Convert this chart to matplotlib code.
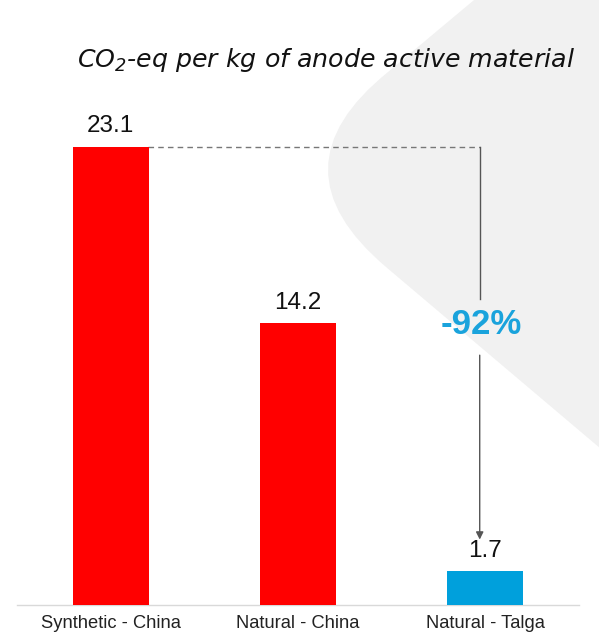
import matplotlib
matplotlib.use("Agg")
import matplotlib.pyplot as plt
from matplotlib.path import Path
from matplotlib.patches import PathPatch

categories = ["Synthetic - China", "Natural - China", "Natural - Talga"]
values = [23.1, 14.2, 1.7]
value_labels = ["23.1", "14.2", "1.7"]
bar_colors = ["#ff0000", "#ff0000", "#00a0dc"]
change_label = "-92%"
title = r"CO$_{2}$-eq per kg of anode active material"

plt.rcParams['font.family'] = ['Liberation Sans', 'DejaVu Sans']
plt.rcParams['mathtext.fontset'] = 'custom'
plt.rcParams['mathtext.rm'] = 'DejaVu Sans'
plt.rcParams['mathtext.it'] = 'DejaVu Sans:italic'
plt.rcParams['mathtext.default'] = 'regular'

W, H = 599, 636
fig = plt.figure(figsize=(W / 100, H / 100), dpi=100)
fig.patch.set_facecolor('white')

# decorative grey background shape (pixel coords -> figure fraction)
def P(x, y):
    return (x / W, 1 - y / H)

verts = [P(388, 72), P(480, -5), P(620, -5), P(620, 465), P(386, 267),
         P(269, 168), P(388, 72), P(388, 72)]
codes = [Path.MOVETO, Path.LINETO, Path.LINETO, Path.LINETO, Path.LINETO,
         Path.CURVE3, Path.CURVE3, Path.CLOSEPOLY]
shape = PathPatch(Path(verts, codes), transform=fig.transFigure,
                  facecolor='#f1f1f1', edgecolor='none', zorder=0)
fig.patches.append(shape)

ax = fig.add_axes([17 / W, (H - 605) / H, 562 / W, (605 - 100) / H])
ax.set_zorder(2)
ax.set_facecolor('none')
x = list(range(len(categories)))
ax.bar(x, values, width=0.405, color=bar_colors, zorder=3)
ax.set_xlim(-0.5, 2.5)
ax.set_ylim(0, 505 / (458 / 23.1))

for xi, v, lab in zip(x, values, value_labels):
    ax.annotate(lab, (xi, v), xytext=(0, 7), textcoords='offset points',
                ha='center', va='bottom', fontsize=17.5, color='#111111')

for s in ['top', 'right', 'left']:
    ax.spines[s].set_visible(False)
ax.spines['bottom'].set_color('#d9d9d9')
ax.spines['bottom'].set_linewidth(1)
ax.set_yticks([])
ax.set_xticks(x)
ax.set_xticklabels(categories, fontsize=13.2, color='#222222')
ax.tick_params(axis='x', length=0, pad=7)

# reduction annotation
xa = 1.97
ax.plot([0.2, xa], [values[0], values[0]], ls=(0, (4, 3)), color='#777777', lw=1, zorder=2)
ax.plot([xa, xa], [values[0], 15.45], color='#555555', lw=1, zorder=2)
ax.text(xa + 0.01, 14.15, change_label, ha='center', va='center', fontsize=25,
        fontweight='bold', color='#1aa3dc', family='Liberation Sans', zorder=4)
ax.annotate('', xy=(xa, values[2] + 1.6), xytext=(xa, 12.6),
            arrowprops=dict(arrowstyle='-|>', color='#555555', lw=1,
                            mutation_scale=11, shrinkA=0, shrinkB=0), zorder=2)

fig.text(326 / W, 1 - 60 / H, title, ha='center', va='center', fontsize=18.2,
         style='italic', color='#111111', family='DejaVu Sans')

fig.savefig('out.png', dpi=100)
